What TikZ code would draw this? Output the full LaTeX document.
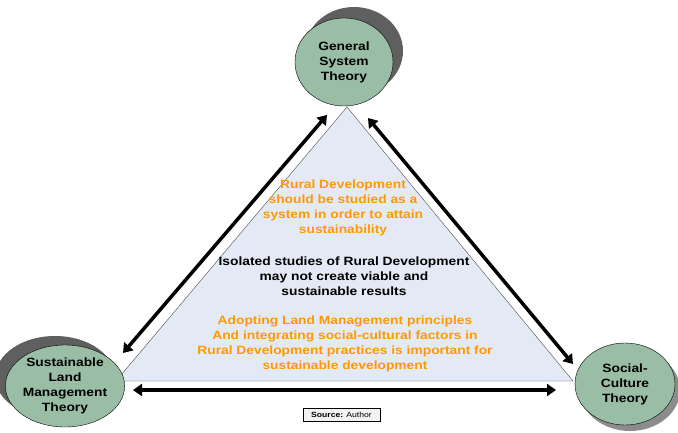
\documentclass[tikz,border=0pt]{standalone}
\usepackage{fontspec}
\setmainfont{Liberation Sans}[FakeStretch=1.15]
\usetikzlibrary{arrows.meta,shapes.geometric,shadows}
\definecolor{theorygreen}{HTML}{99BDA5}
\definecolor{shadegray}{HTML}{5F5F5F}
\definecolor{trifill}{HTML}{E3EAF5}
\definecolor{notegold}{HTML}{FF9900}
\begin{document}
\begin{tikzpicture}[x=1pt,y=-1pt,theory/.style={ellipse,draw=black,fill=theorygreen,
        minimum width=98pt,minimum height=86pt,inner sep=0pt,align=center,
        font=\bfseries\fontsize{12}{15}\selectfont},note/.style={align=center,
        font=\bfseries\fontsize{12}{15}\selectfont},link/.style={{Triangle[length=9pt,
        width=12pt]}-{Triangle[length=9pt,width=12pt]},line width=3.5pt}]
    \useasboundingbox (0,0) rectangle (678,432);

    % the triangle
    \coordinate (apex) at (347,107);
    \coordinate (lcorner) at (116,381);
    \coordinate (rcorner) at (573,381);
    \filldraw[fill=trifill,draw=black!70,thin] (apex) -- (lcorner) -- (rcorner) -- cycle;

    % the theories
    \node[theory,drop shadow={shadow xshift=10pt,shadow yshift=11pt,fill=shadegray,opacity=1},
          minimum height=88pt] (gst) at (344,62) {General\\System\\Theory};
    \node[theory,drop shadow={shadow xshift=-10pt,shadow yshift=9pt,fill=shadegray,opacity=1},
          minimum width=95pt,minimum height=82pt] (slm) at (65,386) {Sustainable\\Land\\Management\\Theory};
    \node[theory,drop shadow={shadow xshift=5pt,shadow yshift=-6pt,fill=black!45,opacity=1},
          minimum width=100pt,minimum height=82pt] (sct) at (625,384) {Social-\\Culture\\Theory};

    % the arrows
    \coordinate (l1) at (123,353);
    \coordinate (l2) at (327,115);
    \coordinate (r1) at (368,118);
    \coordinate (r2) at (573,364);
    \coordinate (b1) at (133,390);
    \coordinate (b2) at (556,390);
    \draw[link] (l1) -- (l2);
    \draw[link] (r1) -- (r2);
    \draw[link] (b1) -- (b2);

    % the texts
    \node[note,text=notegold] (system) at (343,208) {Rural Development\\should be studied as a\\system in order to attain\\sustainability};
    \node[note] (isolated) at (344,276) {Isolated studies of Rural Development\\may not create viable and\\sustainable results};
    \node[note,text=notegold] (adopting) at (345,344) {Adopting Land Management principles\\And integrating social-cultural factors in\\Rural Development practices is important for\\sustainable development};

    \node[draw,fill=black!5,font=\fontsize{7.5}{9}\selectfont,minimum width=77pt,
          minimum height=13pt,inner sep=1pt] (source) at (341.5,414.5) {\textbf{Source:} Author};
\end{tikzpicture}
\end{document}
